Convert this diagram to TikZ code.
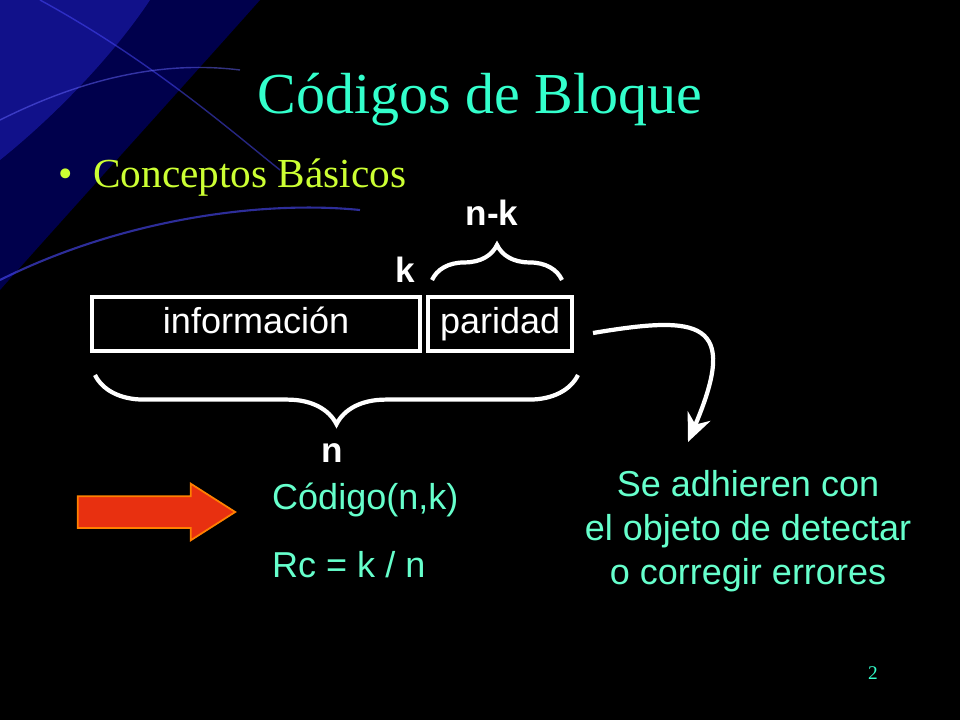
\documentclass[tikz,border=0pt]{standalone}
\usepackage{fontspec}
\setmainfont{Liberation Serif}
\setsansfont{Liberation Sans}
\usetikzlibrary{arrows.meta,positioning,shapes.arrows,decorations.pathreplacing}
\definecolor{titlecol}{RGB}{51,255,204}
\definecolor{bulletcol}{RGB}{204,255,51}
\definecolor{textcol}{RGB}{102,255,204}
\definecolor{arrowred}{RGB}{232,48,16}
\begin{document}
\begin{tikzpicture}[x=0.02cm,y=-0.02cm,
    box/.style={draw=white, line width=2.4pt, minimum height=1.08cm, inner sep=0pt, anchor=north west, text=white, text height=0.5cm, text depth=0.12cm, font=\sffamily\fontsize{20.5}{24}\selectfont},
    lbl/.style={text=white, font=\sffamily\bfseries\fontsize{20}{24}\selectfont},
    brace/.style={draw=white, line width=2.4pt, decorate, decoration={brace, amplitude=#1}},
    info/.style={text=textcol, font=\sffamily\fontsize{20.5}{24}\selectfont, align=center}]
  % Background
  \fill[black] (0,0) rectangle (960,720);
  \useasboundingbox (0,0) rectangle (960,720);
  \begin{scope}
    \clip (0,0) rectangle (960,720);
    \fill[blue!60!black, opacity=0.5] (0,0) -- (260,0) .. controls (180,90) and (80,200) .. (0,290) -- cycle;
    \fill[blue!80, opacity=0.35] (0,0) -- (150,0) .. controls (110,60) and (50,120) .. (0,160) -- cycle;
    \draw[blue!70, line width=1.2pt, opacity=0.6] (0,280) .. controls (120,220) and (260,200) .. (360,210);
    \draw[blue!70, line width=0.8pt, opacity=0.5] (40,0) .. controls (150,60) and (230,130) .. (280,170);
    \draw[blue!60, line width=0.8pt, opacity=0.5] (0,120) .. controls (80,80) and (160,60) .. (240,70);
  \end{scope}
  % Title and bullet
  \node[text=titlecol, font=\fontsize{33}{38}\selectfont] (title) at (480,100) {Códigos de Bloque};
  \node[text=bulletcol, font=\fontsize{23.5}{28}\selectfont, anchor=west] (bullet) at (52,178) {\textbullet\ \ Conceptos Básicos};
  % Codeword
  \node[box, minimum width=6.56cm] (inf) at (90,295) {información};
  \node[box, minimum width=2.88cm] (par) at (426,295) {paridad};
  \node[lbl] (k) at (405,270) {k};
  \node[lbl] (nk) at (492,213) {n-k};
  \node[lbl] (n) at (332,453) {n};
  \draw[brace=20pt] (432,280) -- (562,280);
  \draw[brace=28pt] (578,375) -- (95,375);
  % Curved arrow
  \coordinate (cs) at (593,333);
  \coordinate (ce) at (688,442);
  \draw[white, line width=2.4pt, -{Stealth[length=16pt,width=14pt]}] (cs) .. controls (700,315) and (740,320) .. (ce);
  % Red arrow
  \node[single arrow, fill=arrowred, draw=orange, line width=1pt, minimum height=3.15cm, inner xsep=0pt, inner ysep=0.3cm, single arrow head extend=0.25cm, single arrow tip angle=65] (red) at (144,512) {};
  \node[info, anchor=west] (cod) at (266,500) {Código(n,k)};
  \node[info, anchor=west] (rc) at (266,565) {Rc = k / n};
  \node[info] (se) at (748,531) {Se adhieren con\\[1pt]el objeto de detectar\\[1pt]o corregir errores};
  \node[text=titlecol, font=\fontsize{11}{13}\selectfont] (pg) at (873,673) {2};
\end{tikzpicture}
\end{document}
